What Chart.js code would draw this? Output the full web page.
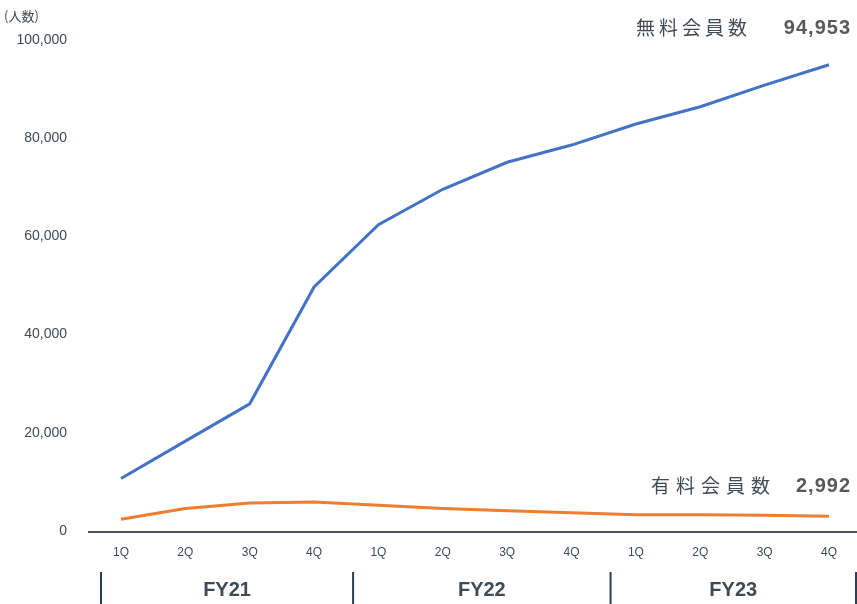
<!DOCTYPE html>
<html>
<head>
<meta charset="utf-8">
<script src="https://cdn.jsdelivr.net/npm/chart.js@4/dist/chart.umd.min.js"></script>
<style>
  body { margin: 0; background: #fff; }
  #wrap { width: 857px; height: 604px; position: relative; }
</style>
</head>
<body>
<div id="wrap"><canvas id="memberChart"></canvas></div>
<script>
const quarters = ['1Q', '2Q', '3Q', '4Q', '1Q', '2Q', '3Q', '4Q', '1Q', '2Q', '3Q', '4Q'];
const fiscalYears = ['FY21', 'FY22', 'FY23'];
const freeMembers = [10700, 18300, 25900, 49700, 62400, 69600, 75100, 78600, 82900, 86400, 90800, 94953];
const paidMembers = [2400, 4600, 5700, 5900, 5250, 4600, 4100, 3700, 3300, 3300, 3200, 2992];
const freeLabel = '無料会員数';
const paidLabel = '有料会員数';
const yUnit = '(人数)';

const textColor = '#3f4b55';
const navy = '#2c3e55';
const fontFamily = "'Liberation Sans', 'Noto Sans CJK JP', sans-serif";
const jpFont = "'Noto Sans CJK JP', sans-serif";

const decorations = {
  id: 'decorations',
  afterDraw(chart) {
    const { ctx, chartArea, scales } = chart;
    const x = scales.x;
    ctx.save();

    // axis line
    ctx.strokeStyle = '#44546a';
    ctx.lineWidth = 2;
    ctx.beginPath();
    ctx.moveTo(chartArea.left - 33, chartArea.bottom + 1);
    ctx.lineTo(857, chartArea.bottom + 1);
    ctx.stroke();

    // fiscal year dividers
    const divs = [
      x.getPixelForValue(0) - 20,
      x.getPixelForValue(3) + 39,
      x.getPixelForValue(7) + 39,
      x.getPixelForValue(11) + 27
    ];
    ctx.strokeStyle = navy;
    ctx.lineWidth = 2;
    divs.forEach(d => {
      ctx.beginPath();
      ctx.moveTo(d, 572);
      ctx.lineTo(d, 604);
      ctx.stroke();
    });
    ctx.fillStyle = textColor;
    ctx.font = 'bold 20px ' + fontFamily;
    ctx.textAlign = 'center';
    ctx.textBaseline = 'middle';
    fiscalYears.forEach((fy, i) => {
      ctx.fillText(fy, (divs[i] + divs[i + 1]) / 2, 590);
    });

    // unit label
    ctx.font = '13px ' + jpFont;
    ctx.textAlign = 'left';
    ctx.fillText(yUnit, 4, 16);

    // series end labels
    const last = freeMembers.length - 1;
    ctx.textAlign = 'right';
    ctx.letterSpacing = '1px';
    ctx.font = 'bold 20px ' + fontFamily;
    ctx.fillStyle = '#595959';
    ctx.fillText(freeMembers[last].toLocaleString('en-US'), 851, 28);
    ctx.fillText(paidMembers[last].toLocaleString('en-US'), 851, 486);
    ctx.letterSpacing = '4px';
    ctx.font = '19px ' + jpFont;
    ctx.fillStyle = textColor;
    ctx.fillText(freeLabel, 751, 28);
    ctx.letterSpacing = '6px';
    ctx.fillText(paidLabel, 776, 486);

    ctx.restore();
  }
};

new Chart(document.getElementById('memberChart'), {
  type: 'line',
  data: {
    labels: quarters,
    datasets: [
      {
        label: freeLabel,
        data: freeMembers,
        borderColor: '#4472c4',
        borderWidth: 3,
        pointRadius: 0,
        tension: 0
      },
      {
        label: paidLabel,
        data: paidMembers,
        borderColor: '#ed7d31',
        borderWidth: 3,
        pointRadius: 0,
        tension: 0
      }
    ]
  },
  options: {
    responsive: true,
    maintainAspectRatio: false,
    animation: false,
    layout: { padding: { top: 40, right: 28, left: 0, bottom: 0 } },
    plugins: {
      legend: { display: false },
      tooltip: { enabled: false }
    },
    scales: {
      x: {
        offset: false,
        grid: { display: false, drawTicks: false },
        border: { display: false },
        ticks: {
          color: textColor,
          font: { family: fontFamily, size: 12 },
          padding: 14,
          maxRotation: 0,
          autoSkip: false
        },
        afterFit(scale) { scale.height = 73; }
      },
      y: {
        min: 0,
        max: 100000,
        grid: { display: false, drawTicks: false },
        border: { display: false },
        ticks: {
          stepSize: 20000,
          color: textColor,
          font: { family: fontFamily, size: 14 },
          padding: 54,
          callback: v => v.toLocaleString('en-US')
        },
        afterFit(scale) {
          scale.width = 121;
          scale.paddingTop = 0;
          scale.paddingBottom = 0;
        }
      }
    }
  },
  plugins: [decorations]
});
</script>
</body>
</html>
